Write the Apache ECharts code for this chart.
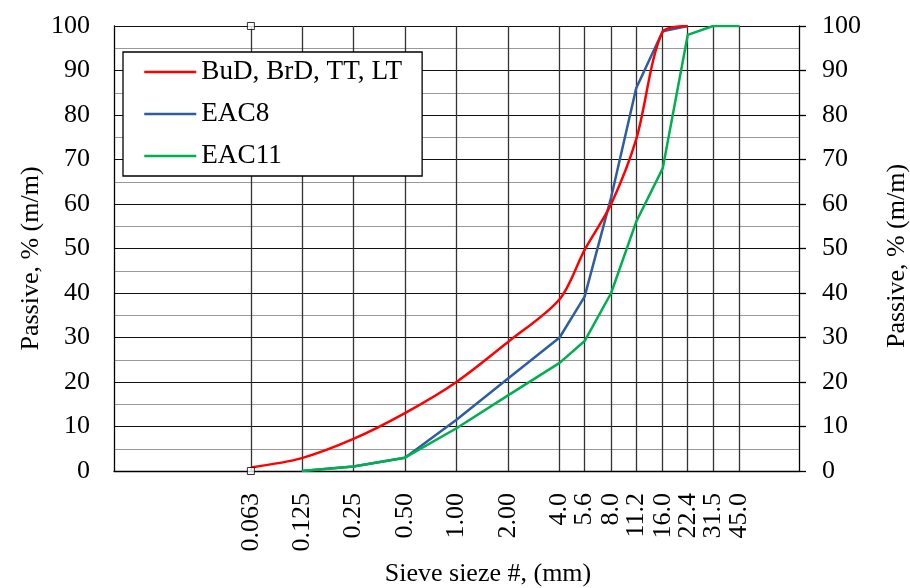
<!DOCTYPE html>
<html>
<head>
<meta charset="utf-8">
<script src="https://cdn.jsdelivr.net/npm/echarts@6/dist/echarts.min.js"></script>
<style>
  html, body { margin: 0; padding: 0; background: #fff; }
  #chart { width: 910px; height: 588px; }
</style>
</head>
<body>
<div id="chart"></div>
<script>
// sieve sizes (mm) and their printed labels
var sieves = [0.063, 0.125, 0.25, 0.5, 1, 2, 4, 5.6, 8, 11.2, 16, 22.4, 31.5, 45];
var sieveLabels = ['0.063', '0.125', '0.25', '0.50', '1.00', '2.00', '4.0', '5.6', '8.0', '11.2', '16.0', '22.4', '31.5', '45.0'];

// passing (%) per curve
var budSizes = [0.063, 0.125, 0.25, 0.5, 1, 2, 4, 5.6, 8, 11.2, 16, 22.4];
var budValues = [0.8, 2.9, 7.2, 13, 20, 29, 38.6, 49.7, 60, 74.5, 98.7, 100];

var eac8Sizes = [0.125, 0.25, 0.5, 1, 2, 4, 5.6, 8, 11.2, 16, 22.4];
var eac8Values = [0, 1, 3, 11.5, 20.8, 30, 39.2, 61.5, 86, 98.8, 100];

var eac11Sizes = [0.125, 0.25, 0.5, 1, 2, 4, 5.6, 8, 11.2, 16, 22.4, 31.5, 45];
var eac11Values = [0, 1, 3, 9.6, 17, 24.3, 29.2, 40, 56, 68, 98, 100, 100];

// stray square markers on the 0.063 line
var markerPoints = [[0.063, 0], [0.063, 100]];

function pairs(xs, ys) {
	return xs.map(function (x, i) { return [x, ys[i]]; });
}

var FONT = 'Liberation Serif';
var chart = echarts.init(document.getElementById('chart'));

var option = {
	animation: false,
	textStyle: { fontFamily: FONT },
	grid: { left: 114, right: 111, top: 26, bottom: 117, containLabel: false, outerBoundsMode: 'none' },
	title: {
		text: 'Sieve sieze #, (mm)',
		left: 488,
		top: 561,
		textAlign: 'center',
		padding: 0,
		textStyle: { fontFamily: FONT, fontSize: 26, fontWeight: 'normal', color: '#000' }
	},
	legend: {
		orient: 'vertical',
		left: 123,
		top: 52,
		padding: [6, 20, 6, 20],
		itemGap: 14,
		itemWidth: 52,
		itemHeight: 14,
		backgroundColor: '#fff',
		borderColor: '#000',
		borderWidth: 1.3,
		borderRadius: 0,
		itemStyle: { opacity: 0 },
		lineStyle: { width: 2.5 },
		data: ['BuD, BrD, TT, LT', 'EAC8', 'EAC11'],
		textStyle: { fontFamily: FONT, fontSize: 27.2, lineHeight: 28, color: '#000' }
	},
	xAxis: {
		type: 'log',
		logBase: 10,
		min: 0.01,
		max: 100,
		axisLine: { show: true, lineStyle: { color: '#000', width: 1.3 } },
		axisTick: { show: false, customValues: sieves },
		axisLabel: {
			customValues: sieves,
			rotate: 90,
			margin: 22,
			fontFamily: FONT,
			fontSize: 26,
			color: '#000',
			formatter: function (v) {
				var best = 0;
				for (var i = 1; i < sieves.length; i++) {
					if (Math.abs(Math.log(sieves[i] / v)) < Math.abs(Math.log(sieves[best] / v))) best = i;
				}
				return sieveLabels[best];
			}
		},
		splitLine: { show: true, lineStyle: { color: '#333', width: 1.3 } },
		minorSplitLine: { show: false }
	},
	yAxis: [{
		type: 'value',
		position: 'left',
		min: 0,
		max: 100,
		interval: 10,
		axisLine: { show: true, lineStyle: { color: '#000', width: 1.3 } },
		axisTick: { show: false },
		axisLabel: { margin: 24, fontFamily: FONT, fontSize: 26, color: '#000' },
		splitLine: { show: true, lineStyle: { color: '#111', width: 1.2 } },
		minorTick: { show: false, splitNumber: 2 },
		minorSplitLine: { show: true, lineStyle: { color: '#999', width: 1.2 } },
		name: 'Passive, % (m/m)',
		nameLocation: 'middle',
		nameRotate: 90,
		nameGap: 70,
		nameMoveOverlap: false,
		nameTextStyle: { fontFamily: FONT, fontSize: 26, color: '#000', padding: [0, 20, 0, 0] }
	}, {
		type: 'value',
		position: 'right',
		min: 0,
		max: 100,
		interval: 10,
		axisLine: { show: true, lineStyle: { color: '#000', width: 1.3 } },
		axisTick: { show: true, inside: false, length: 7, lineStyle: { color: '#000', width: 1.3 } },
		axisLabel: { margin: 23, fontFamily: FONT, fontSize: 26, color: '#000' },
		splitLine: { show: false },
		name: 'Passive, % (m/m)',
		nameLocation: 'middle',
		nameRotate: 90,
		nameGap: 85,
		nameMoveOverlap: false,
		nameTextStyle: { fontFamily: FONT, fontSize: 26, color: '#000', padding: [0, 15, 0, 0] }
	}],
	series: [{
		name: 'EAC8',
		type: 'line',
		symbol: 'none',
		color: '#2E5DA0',
		lineStyle: { width: 2.5, color: '#2E5DA0' },
		data: pairs(eac8Sizes, eac8Values),
		z: 3
	}, {
		name: 'EAC11',
		type: 'line',
		symbol: 'none',
		color: '#00B050',
		lineStyle: { width: 2.5, color: '#00B050' },
		data: pairs(eac11Sizes, eac11Values),
		z: 4
	}, {
		name: 'BuD, BrD, TT, LT',
		type: 'line',
		symbol: 'none',
		smooth: 0.3,
		color: '#FF0000',
		lineStyle: { width: 2.5, color: '#FF0000' },
		data: pairs(budSizes, budValues),
		z: 5
	}, {
		name: 'marker',
		type: 'scatter',
		symbol: 'rect',
		symbolSize: 7,
		itemStyle: { color: '#fff', borderColor: '#000', borderWidth: 1 },
		data: markerPoints,
		z: 6
	}]
};
chart.setOption(option);

window.onresize = function () {
	chart.resize();
};
</script>
</body>
</html>
